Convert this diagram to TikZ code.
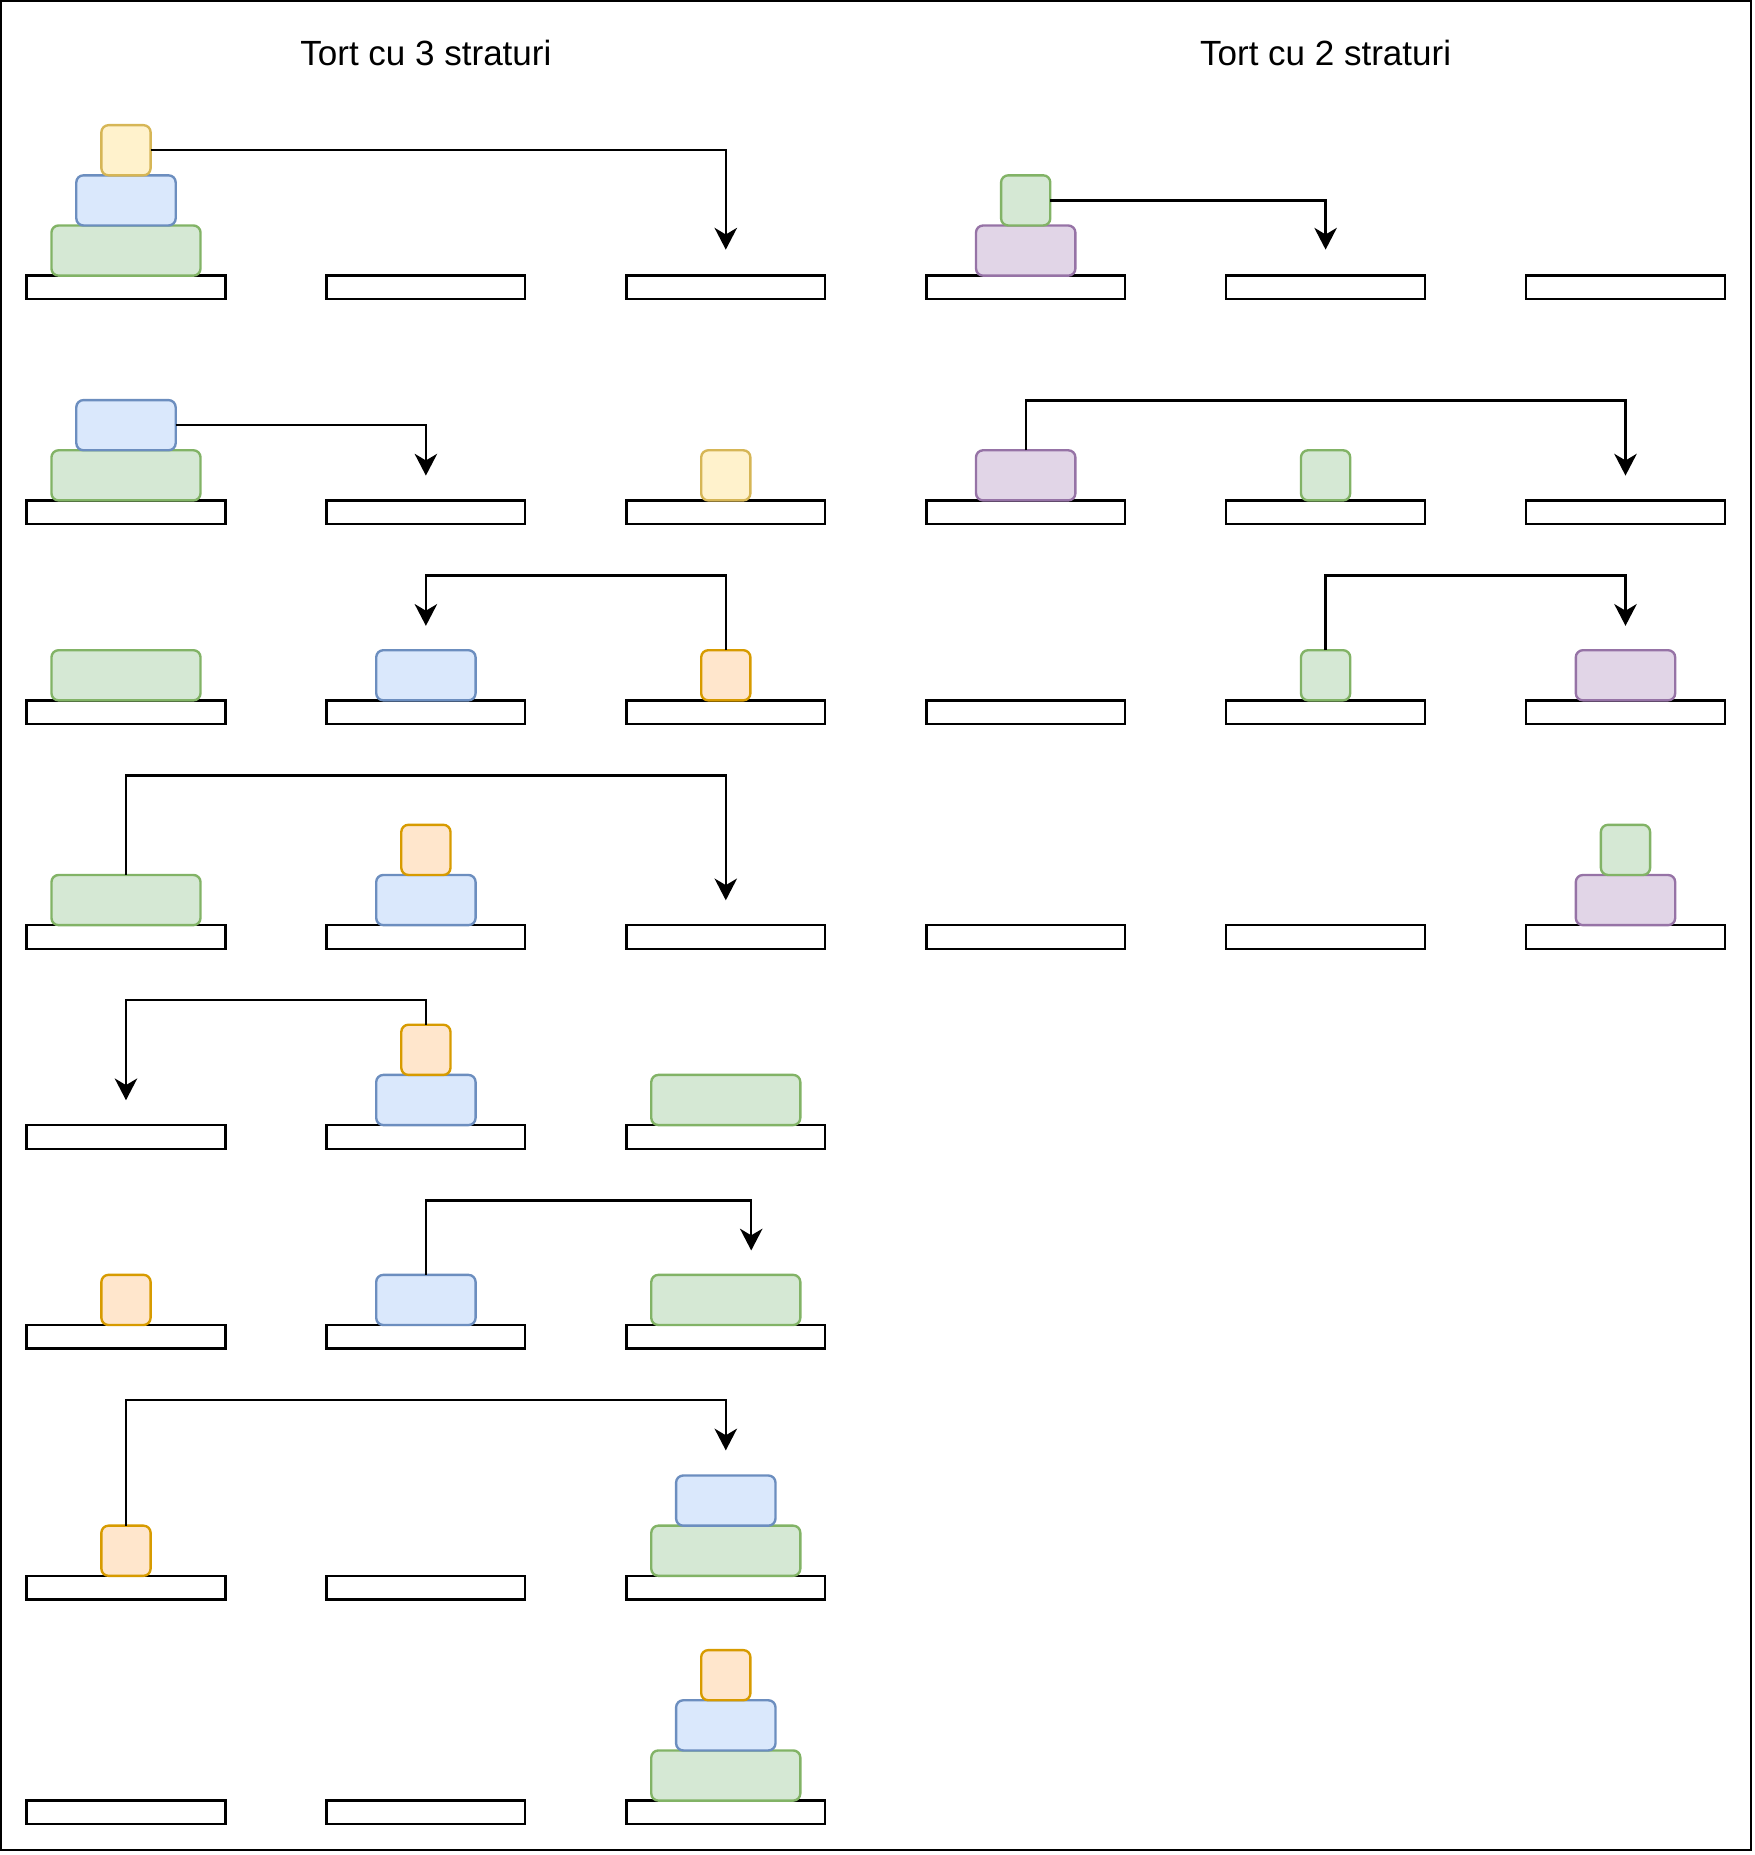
\documentclass[tikz,border=0pt]{standalone}
\usepackage{fontspec}
\setmainfont{Liberation Sans}
\usetikzlibrary{arrows.meta}
\definecolor{yelF}{HTML}{FFF2CC}\definecolor{yelD}{HTML}{D6B656}
\definecolor{bluF}{HTML}{DAE8FC}\definecolor{bluD}{HTML}{6C8EBF}
\definecolor{grnF}{HTML}{D5E8D4}\definecolor{grnD}{HTML}{82B366}
\definecolor{orgF}{HTML}{FFE6CC}\definecolor{orgD}{HTML}{D79B00}
\definecolor{purF}{HTML}{E1D5E7}\definecolor{purD}{HTML}{9673A6}
\begin{document}
\begin{tikzpicture}[x=0.5pt,y=-0.5pt,
  plate/.style={draw=black,line width=1pt,fill=white,minimum width=84pt,minimum height=10pt,inner sep=0pt,outer sep=0pt,anchor=north},
  disc/.style={line width=1pt,rounded corners=3pt,minimum height=21.2pt,inner sep=0pt,outer sep=0pt,anchor=south},
  sdisc/.style={disc,minimum width=20.8pt},
  mdisc/.style={disc,minimum width=42pt},
  ldisc/.style={disc,minimum width=63pt},
  yel/.style={fill=yelF,draw=yelD},
  blu/.style={fill=bluF,draw=bluD},
  grn/.style={fill=grnF,draw=grnD},
  org/.style={fill=orgF,draw=orgD},
  pur/.style={fill=purF,draw=purD},
  arr/.style={draw=black,line width=1pt,-{Stealth[length=9.2pt,width=9.5pt,inset=2.8pt]}},
  title/.style={font=\fontsize{14.8}{18}\selectfont,anchor=base,inner sep=0pt}]
\useasboundingbox (0,0) rectangle (1483,1568);
\draw[line width=1pt] (1,1) rectangle (1480,1564);
\node[title] (t3) at (360,55) {Tort cu 3 straturi};
\node[title] (t2) at (1120.5,55) {Tort cu 2 straturi};
% plates left
\foreach \r/\y in {1/233,2/423,3/592,4/782,5/951,6/1120,7/1332,8/1522}
  \foreach \c/\x in {1/106.5,2/360,3/613.5}
    \node[plate] (p\r-\c) at (\x,\y) {};
% plates right
\foreach \r/\y in {1/233,2/423,3/592,4/782}
  \foreach \c/\x in {4/867,5/1120.5,6/1374}
    \node[plate] (p\r-\c) at (\x,\y) {};
% tips
\coordinate (k1) at (613.5,211);
\coordinate (k2) at (360,402);
\coordinate (k3) at (360,529);
\coordinate (k4) at (613.5,761);
\coordinate (k5) at (106.5,930);
\coordinate (k6) at (635,1057);
\coordinate (k7) at (613.5,1226);
\coordinate (r1) at (1120.5,211);
\coordinate (r2) at (1374,402);
\coordinate (r3) at (1374,529);
% row 1 left
\node[ldisc,grn] (a1L) at (p1-1.north) {};
\node[mdisc,blu] (a1M) at (a1L.north) {};
\node[sdisc,yel] (a1S) at (a1M.north) {};
\draw[arr] (a1S.east) -| (k1);
% row 2 left
\node[ldisc,grn] (a2L) at (p2-1.north) {};
\node[mdisc,blu] (a2M) at (a2L.north) {};
\node[sdisc,yel] (a2S) at (p2-3.north) {};
\draw[arr] (a2M.east) -| (k2);
% row 3 left
\node[ldisc,grn] (a3L) at (p3-1.north) {};
\node[mdisc,blu] (a3M) at (p3-2.north) {};
\node[sdisc,org] (a3S) at (p3-3.north) {};
\draw[arr] (a3S.north) -- ++(0,-63) -| (k3);
% row 4 left
\node[ldisc,grn] (a4L) at (p4-1.north) {};
\node[mdisc,blu] (a4M) at (p4-2.north) {};
\node[sdisc,org] (a4S) at (a4M.north) {};
\draw[arr] (a4L.north) -- ++(0,-84) -| (k4);
% row 5 left
\node[mdisc,blu] (a5M) at (p5-2.north) {};
\node[sdisc,org] (a5S) at (a5M.north) {};
\node[ldisc,grn] (a5L) at (p5-3.north) {};
\draw[arr] (a5S.north) -- ++(0,-21) -| (k5);
% row 6 left
\node[sdisc,org] (a6S) at (p6-1.north) {};
\node[mdisc,blu] (a6M) at (p6-2.north) {};
\node[ldisc,grn] (a6L) at (p6-3.north) {};
\draw[arr] (a6M.north) -- ++(0,-63) -| (k6);
% row 7 left
\node[sdisc,org] (a7S) at (p7-1.north) {};
\node[ldisc,grn] (a7L) at (p7-3.north) {};
\node[mdisc,blu] (a7M) at (a7L.north) {};
\draw[arr] (a7S.north) -- ++(0,-106) -| (k7);
% row 8 left
\node[ldisc,grn] (a8L) at (p8-3.north) {};
\node[mdisc,blu] (a8M) at (a8L.north) {};
\node[sdisc,org] (a8S) at (a8M.north) {};
% row 1 right
\node[mdisc,pur] (b1M) at (p1-4.north) {};
\node[sdisc,grn] (b1S) at (b1M.north) {};
\draw[arr] (b1S.east) -| (r1);
% row 2 right
\node[mdisc,pur] (b2M) at (p2-4.north) {};
\node[sdisc,grn] (b2S) at (p2-5.north) {};
\draw[arr] (b2M.north) -- ++(0,-42) -| (r2);
% row 3 right
\node[sdisc,grn] (b3S) at (p3-5.north) {};
\node[mdisc,pur] (b3M) at (p3-6.north) {};
\draw[arr] (b3S.north) -- ++(0,-63) -| (r3);
% row 4 right
\node[mdisc,pur] (b4M) at (p4-6.north) {};
\node[sdisc,grn] (b4S) at (b4M.north) {};
\end{tikzpicture}
\end{document}
